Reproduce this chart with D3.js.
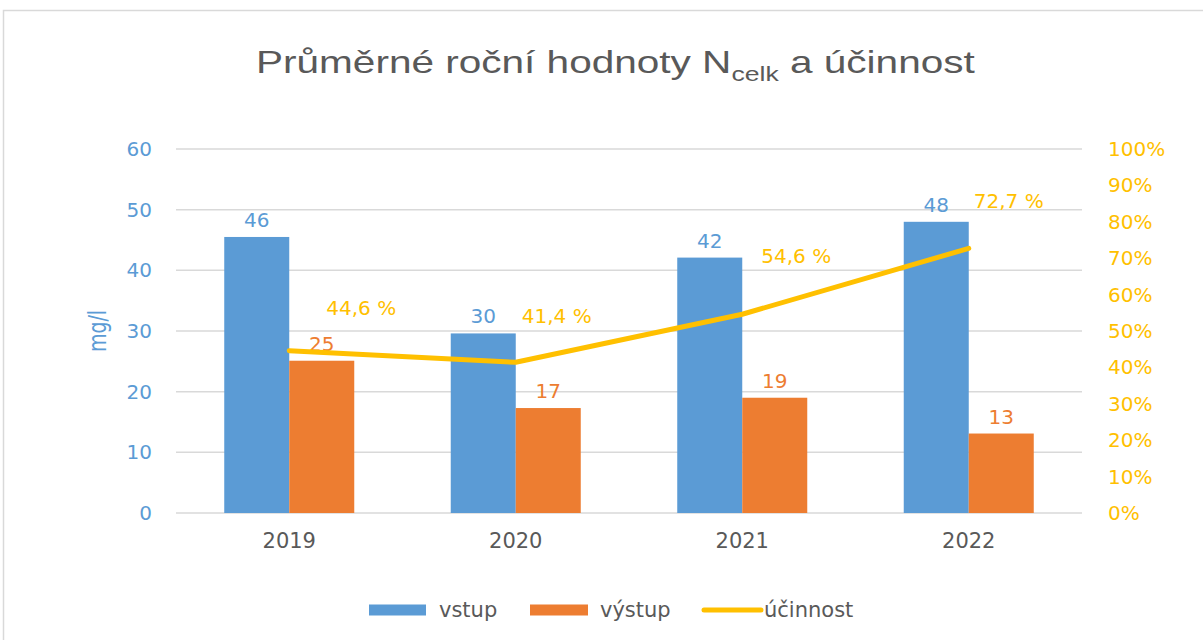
<!DOCTYPE html>
<html>
<head>
<meta charset="utf-8">
<script src="https://cdn.jsdelivr.net/npm/d3@7"></script>
<style>
  html, body { margin: 0; padding: 0; background: #fff; }
  svg text { font-family: "DejaVu Sans", Verdana, sans-serif; }
</style>
</head>
<body>
<div id="chart"></div>
<script>
// data
const years = ['2019', '2020', '2021', '2022'];
const vstup = [45.5, 29.6, 42.1, 48.0];
const vystup = [25.1, 17.3, 19.0, 13.1];
const ucinnost = [44.6, 41.4, 54.6, 72.7];
const vstupLabels = ['46', '30', '42', '48'];
const vystupLabels = ['25', '17', '19', '13'];
const ucinnostLabels = ['44,6 %', '41,4 %', '54,6 %', '72,7 %'];
const leftTicks = [0, 10, 20, 30, 40, 50, 60];
const rightTicks = [0, 10, 20, 30, 40, 50, 60, 70, 80, 90, 100];

const W = 1203, H = 640;
const blue = '#5B9BD5', orange = '#ED7D31', gold = '#FFC000';
const grid = '#D9D9D9', textGrey = '#595959';

// manual label nudges, like the hand-placed labels in the original
const pctShift = [[37, -43], [6, -46], [19, -58], [5, -47]];

const margin = { top: 149, right: 121, bottom: 127, left: 176 };
const width = W - margin.left - margin.right;
const height = H - margin.top - margin.bottom;

const svg = d3.select('#chart').append('svg')
  .attr('width', W).attr('height', H);

// outer frame (only top and left edges show)
svg.append('path')
  .attr('d', `M3.5,${H} V10.5 H${W}`)
  .attr('fill', 'none').attr('stroke', grid).attr('stroke-width', 1.5);

// title - the original is stretched wide, so scale it to the same width
const title = svg.append('text')
  .style('font-family', '"Liberation Sans", Arial, sans-serif')
  .style('font-size', '32px')
  .attr('fill', textGrey);
title.append('tspan').text('Průměrné roční hodnoty N');
title.append('tspan').attr('dy', 8).style('font-size', '21px').text('celk');
title.append('tspan').attr('dy', -8).text(' a účinnost');
const tw = title.node().getBBox().width;
title.attr('transform', `translate(256,73) scale(${719 / tw},1)`);

const g = svg.append('g').attr('transform', `translate(${margin.left},${margin.top})`);

const x0 = d3.scaleBand().domain(years).range([0, width])
  .paddingInner(0.426).paddingOuter(0.213);
const x1 = d3.scaleBand().domain(['vstup', 'vystup']).range([0, x0.bandwidth()]);
const y = d3.scaleLinear().domain([0, 60]).range([height, 0]);
const yR = d3.scaleLinear().domain([0, 100]).range([height, 0]);

// gridlines
g.append('g').selectAll('line').data(leftTicks).join('line')
  .attr('x1', 0).attr('x2', width)
  .attr('y1', d => y(d)).attr('y2', d => y(d))
  .attr('stroke', grid).attr('stroke-width', 1.5);

// left axis
const yAxis = g.append('g')
  .call(d3.axisLeft(y).tickValues(leftTicks).tickSize(0).tickPadding(24));
yAxis.select('.domain').remove();
yAxis.selectAll('text').attr('fill', blue).style('font-size', '20px')
  .style('font-family', '"DejaVu Sans", sans-serif');

// right axis
const yAxisR = g.append('g').attr('transform', `translate(${width},0)`)
  .call(d3.axisRight(yR).tickValues(rightTicks).tickSize(0).tickPadding(26)
    .tickFormat(d => d + '%'));
yAxisR.select('.domain').remove();
yAxisR.selectAll('text').attr('fill', gold).style('font-size', '20px')
  .style('font-family', '"DejaVu Sans", sans-serif');

// bottom axis
const xAxis = g.append('g').attr('transform', `translate(0,${height})`)
  .call(d3.axisBottom(x0).tickSize(0).tickPadding(20));
xAxis.select('.domain').remove();
xAxis.selectAll('text').attr('fill', textGrey).style('font-size', '21px')
  .style('font-family', '"DejaVu Sans", sans-serif');

// y title
svg.append('text')
  .attr('transform', 'translate(106,331) scale(1.3,1) rotate(-90)')
  .attr('text-anchor', 'middle')
  .attr('fill', blue).style('font-size', '19px')
  .text('mg/l');

// bars
const series = [
  { key: 'vstup', values: vstup, labels: vstupLabels, color: blue },
  { key: 'vystup', values: vystup, labels: vystupLabels, color: orange }
];
series.forEach(s => {
  g.append('g').selectAll('rect').data(years).join('rect')
    .attr('x', (d) => x0(d) + x1(s.key))
    .attr('y', (d, i) => y(s.values[i]))
    .attr('width', x1.bandwidth())
    .attr('height', (d, i) => y(0) - y(s.values[i]))
    .attr('fill', s.color);
  g.append('g').selectAll('text').data(years).join('text')
    .attr('x', d => x0(d) + x1(s.key) + x1.bandwidth() / 2)
    .attr('y', (d, i) => y(s.values[i]) - 10)
    .attr('text-anchor', 'middle')
    .attr('fill', s.color).style('font-size', '20px')
    .text((d, i) => s.labels[i]);
});

// efficiency line
const cx = d => x0(d) + x0.bandwidth() / 2;
const line = d3.line()
  .x((d, i) => cx(years[i]))
  .y(d => yR(d));
g.append('path').datum(ucinnost)
  .attr('d', line)
  .attr('fill', 'none').attr('stroke', gold)
  .attr('stroke-width', 5).attr('stroke-linecap', 'round')
  .attr('stroke-linejoin', 'round');

g.append('g').selectAll('text').data(ucinnost).join('text')
  .attr('x', (d, i) => cx(years[i]) + pctShift[i][0])
  .attr('y', (d, i) => yR(d) + pctShift[i][1])
  .attr('dy', '0.35em')
  .attr('fill', gold).style('font-size', '20px')
  .text((d, i) => ucinnostLabels[i]);

// legend
const legend = svg.append('g').attr('transform', 'translate(0,610)');
legend.append('rect').attr('x', 369).attr('y', -5.5).attr('width', 57).attr('height', 11).attr('fill', blue);
legend.append('text').attr('x', 439).attr('dy', '0.35em').attr('fill', textGrey).style('font-size', '21px').text('vstup');
legend.append('rect').attr('x', 530).attr('y', -5.5).attr('width', 58).attr('height', 11).attr('fill', orange);
legend.append('text').attr('x', 600).attr('dy', '0.35em').attr('fill', textGrey).style('font-size', '21px').text('výstup');
legend.append('line').attr('x1', 704).attr('x2', 761).attr('y1', 0).attr('y2', 0)
  .attr('stroke', gold).attr('stroke-width', 5).attr('stroke-linecap', 'round');
legend.append('text').attr('x', 764).attr('dy', '0.35em').attr('fill', textGrey).style('font-size', '21px').text('účinnost');
</script>
</body>
</html>
